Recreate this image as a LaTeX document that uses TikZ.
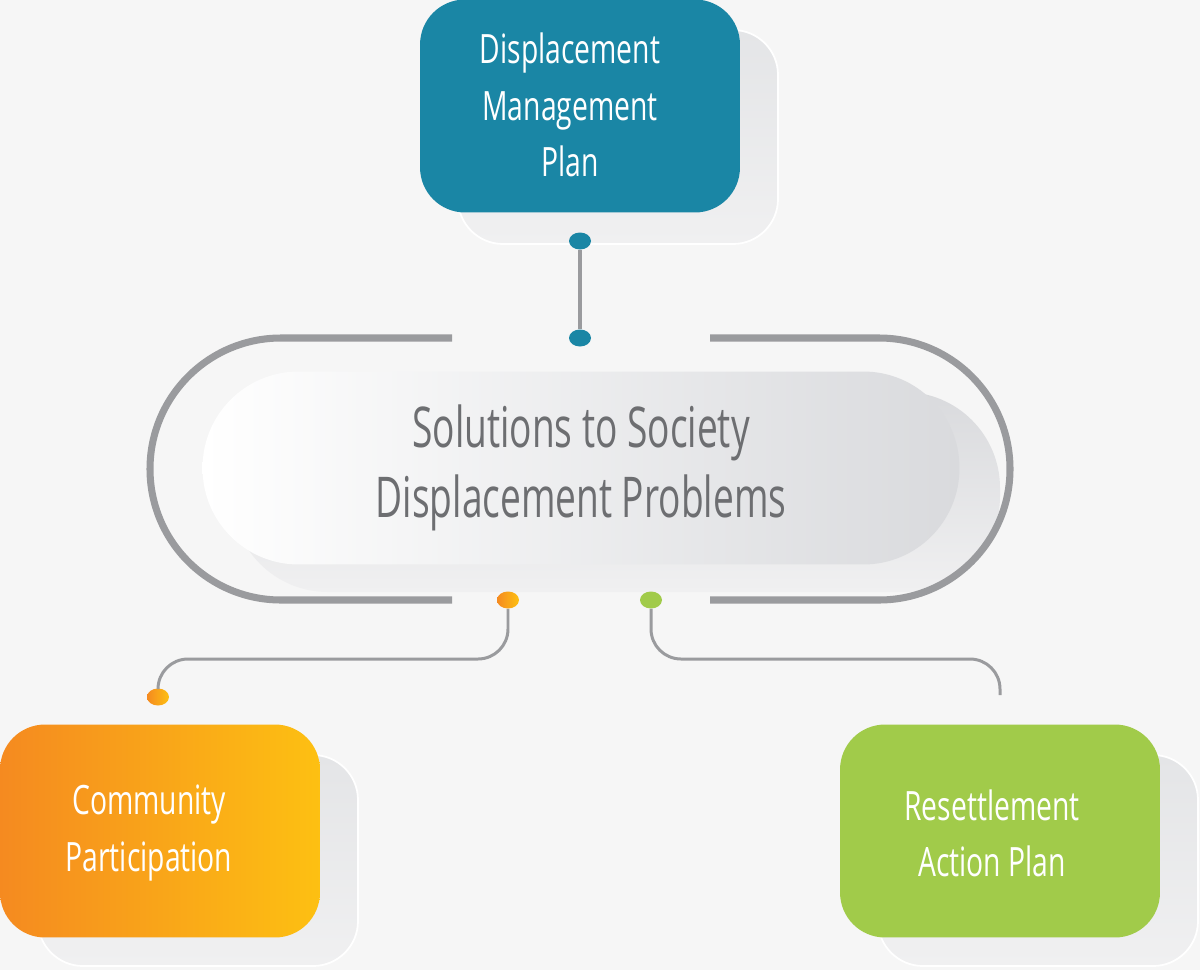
\documentclass[tikz,border=0pt]{standalone}
\usepackage{fontspec}
\newfontfamily\cf[FakeStretch=0.7]{Open Sans}
\newfontfamily\cfn[FakeStretch=0.66]{Open Sans}
\usetikzlibrary{shapes.geometric}
\definecolor{bgc}{HTML}{F6F6F6}
\definecolor{cTeal}{HTML}{1A86A5}
\definecolor{cOrL}{HTML}{F58A20}
\definecolor{cOrR}{HTML}{FDC012}
\definecolor{cGreen}{HTML}{A1CB4A}
\definecolor{cTrack}{HTML}{9A9B9E}
\definecolor{cLine}{HTML}{9A9B9E}
\definecolor{cText}{HTML}{6D6E71}
\definecolor{cShadow}{HTML}{E4E5E7}
\definecolor{cShadowL}{HTML}{F0F0F1}
\definecolor{cPillR}{HTML}{D9DADD}
\begin{document}
\begin{tikzpicture}[x=0.02cm,y=-0.02cm,
  box/.style={rounded corners=0.9cm, minimum width=6.4cm, minimum height=4.26cm,
    inner sep=0pt},
  boxtext/.style={inner sep=0pt, align=center, text=white, font=\cf\fontsize{23}{32}\selectfont},
  pill/.style={rounded corners=1.92cm, minimum width=15.14cm, minimum height=3.86cm,
    inner sep=0pt, align=center, text=cText, left color=white, right color=cPillR,
    font=\cfn\fontsize{32}{40}\selectfont},
  dotmark/.style={ellipse, minimum width=0.44cm, minimum height=0.34cm, inner sep=0pt},
  conn/.style={draw=cLine, line width=1.7pt, rounded corners=0.6cm},
  track/.style={draw=cTrack, line width=4pt, rounded corners=2.62cm},
  shadowbox/.style={rounded corners=0.9cm, top color=cShadow, bottom color=cShadowL, draw=white, line width=1pt}]
\useasboundingbox (0,0) rectangle (1200,970);
\fill[bgc] (0,0) rectangle (1200,970);

% shadows
\path[shadowbox] (458,30) rectangle (778,244);
\path[shadowbox] (38,755) rectangle (358,966);
\path[shadowbox] (878,755) rectangle (1198,966);
\path[rounded corners=1.92cm, top color=cPillR, bottom color=cShadowL] (232,392) rectangle (1000,592);

% outer track
\draw[track] (452,338) -- (150,338) -- (150,600) -- (452,600);
\draw[track] (710,338) -- (1010,338) -- (1010,600) -- (710,600);

% central pill
\node[pill] (core) at (581,468) {Solutions to Society\\Displacement Problems};

% boxes
\node[box, fill=cTeal] (dmp) at (580,106) {};
\node[boxtext] (dmpT) at (570,105) {Displacement\\Management\\Plan};
\node[box, left color=cOrL, right color=cOrR] (cp) at (160,831) {};
\node[boxtext] (cpT) at (149,833) {Community\\Participation};
\node[box, fill=cGreen] (rap) at (1000,831) {};
\node[boxtext] (rapT) at (992,833) {Resettlement\\Action Plan};

% dots and coordinates
\node[dotmark, fill=cTeal] (dtop) at (580,241) {};
\node[dotmark, fill=cTeal] (dcore) at (580,338) {};
\node[dotmark, left color=cOrL, right color=cOrR] (dor) at (508,600) {};
\node[dotmark, fill=cGreen] (dgr) at (651,600) {};
\node[dotmark, left color=cOrL, right color=cOrR] (dcp) at (158,697) {};
\coordinate (omid) at (330,659);
\coordinate (gmid) at (830,659);
\coordinate (gend) at (1000,695);

% connectors
\draw[draw=cLine, line width=2.2pt] (dtop) -- (dcore);
\draw[conn] (dor.south) |- (omid) -| (dcp.north);
\draw[conn] (dgr.south) |- (gmid) -| (gend);
\end{tikzpicture}
\end{document}
